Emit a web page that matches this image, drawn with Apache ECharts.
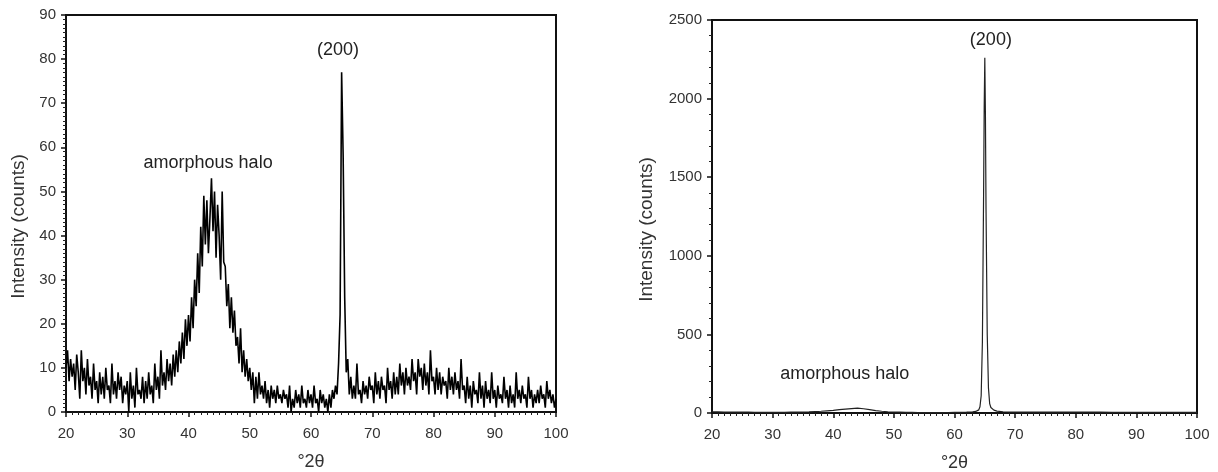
<!DOCTYPE html>
<html>
<head>
<meta charset="utf-8">
<script src="https://cdn.jsdelivr.net/npm/echarts@6/dist/echarts.min.js"></script>
<style>html,body{margin:0;padding:0;background:#fff}#c{width:1218px;height:472px}</style>
</head>
<body>
<div id="c"></div>
<script>
// Left pattern: 2θ from 20 to 100 in steps of 0.25°
const leftStart = 20, leftStep = 0.25;
const leftY = [
10,14,7,12, 8,11,5,13, 9,3,14,7, 10,4,12,6, 8,3,11,5,
7,2,9,4, 8,3,10,5, 6,2,11,4, 7,3,9,5, 8,2,6,4,
7,0,9,3, 6,1,10,4, 5,3,8,2, 7,3,9,4, 6,2,11,5,
8,3,14,6, 9,5,12,7, 11,6,13,8, 14,9,16,11, 18,12,21,15,
22,16,26,19, 30,24,36,27, 42,33,49,38, 48,36,44,53, 41,50,35,47,
40,30,50,34, 33,24,29,19, 26,18,23,15, 17,11,19,9, 14,8,12,7,
10,5,9,2, 8,3,9,4, 6,3,7,2, 5,1,6,3, 5,2,6,3,
4,2,5,3, 4,1,6,0, 3,1,5,2, 4,1,6,2, 3,1,5,2,
4,1,6,2, 3,0,5,2, 4,1,3,0, 4,1,5,3, 6,4,11,22,
77,58,26,9, 12,4,8,3, 6,3,11,4, 5,2,7,4, 6,3,8,5,
6,2,9,4, 7,3,8,5, 6,2,10,5, 7,3,9,4, 8,4,11,6,
9,4,10,6, 8,5,12,7, 9,4,12,8, 10,5,11,6, 9,4,14,7,
8,4,10,5, 9,4,8,6, 7,3,10,5, 8,4,9,5, 7,3,12,5,
6,2,8,3, 6,1,7,4, 5,2,9,3, 6,1,7,3, 5,2,9,3,
5,1,6,3, 4,2,8,3, 5,1,6,2, 4,1,9,3, 5,2,6,3,
4,1,8,3, 5,1,4,2, 5,2,6,3, 4,1,7,3, 5,2,4,1,
3
];
// Right pattern
const rightX = [20,21,22,23,24,25,26,27,28,29,30,31,32,33,34,35,36,37,38,39,40,41,42,43,44,45,46,47,48,49,50,51,52,53,54,55,56,57,58,59,60,61,62,63,63.5,64,64.2,64.4,64.6,64.8,64.9,65,65.1,65.2,65.4,65.6,65.8,66,66.5,67,68,69,70,72,74,76,78,80,82,84,86,88,90,92,94,96,98,100];
const rightY = [8,7,6,6,5,5,5,4,4,4,4,4,4,5,5,6,7,9,11,14,17,21,25,28,31,27,21,15,11,8,6,5,4,4,3,3,3,3,3,3,4,4,5,7,10,20,40,110,450,1400,1950,2260,1900,1300,500,160,60,35,18,12,8,6,5,5,5,6,6,5,5,5,4,4,4,4,4,4,4,4];
const xTicks = [20,30,40,50,60,70,80,90,100];
const leftYTicks = [0,10,20,30,40,50,60,70,80,90];
const rightYTicks = [0,500,1000,1500,2000,2500];
const notes = {
  leftPeak: {label: '(200)', x: 64.4, y: 82},
  leftHalo: {label: 'amorphous halo', x: 43.2, y: 56.4},
  rightPeak: {label: '(200)', x: 66.0, y: 2373},
  rightHalo: {label: 'amorphous halo', x: 41.9, y: 248}
};

const leftData = leftY.map((v, i) => [leftStart + i * leftStep, v]);
const rightData = rightX.map((x, i) => [x, rightY[i]]);

const FONT = '"Liberation Sans", Arial, sans-serif';
const labelStyle = {color: '#333', fontSize: 15, fontFamily: FONT};

function xAxis(gi) {
  return {
    type: 'value', gridIndex: gi, min: xTicks[0], max: xTicks[xTicks.length - 1], interval: 10,
    name: '°2θ', nameLocation: 'middle', nameGap: 41,
    nameTextStyle: {color: '#333', fontSize: 18, fontFamily: FONT},
    axisLine: {show: true, onZero: false, lineStyle: {color: '#111', width: 2}},
    axisTick: {show: true, length: 5, lineStyle: {color: '#111', width: 1.5}},
    minorTick: {show: true, splitNumber: 10, length: 3, lineStyle: {color: '#222', width: 1}},
    axisLabel: Object.assign({margin: 14, formatter: v => String(v)}, labelStyle),
    splitLine: {show: false}
  };
}
function yAxis(gi, ticks, interval, split, gap) {
  return {
    type: 'value', gridIndex: gi, min: ticks[0], max: ticks[ticks.length - 1], interval: interval,
    name: 'Intensity (counts)', nameLocation: 'middle', nameGap: gap,
    nameTextStyle: {color: '#333', fontSize: 19, fontFamily: FONT, padding: [0, 26, 0, 0]},
    axisLine: {show: true, onZero: false, lineStyle: {color: '#111', width: 2}},
    axisTick: {show: true, length: 5, lineStyle: {color: '#111', width: 1.5}},
    minorTick: {show: true, splitNumber: split, length: 3, lineStyle: {color: '#222', width: 1}},
    axisLabel: Object.assign({margin: 10, formatter: v => String(v)}, labelStyle),
    splitLine: {show: false}
  };
}
function note(n) {
  return {
    coord: [n.x, n.y], symbol: 'circle', symbolSize: 0,
    label: {show: true, formatter: n.label, position: 'inside',
      color: '#222', fontSize: 18, fontFamily: FONT}
  };
}

const chart = echarts.init(document.getElementById('c'), null, {renderer: 'canvas'});
chart.setOption({
  animation: false,
  backgroundColor: '#fff',
  grid: [
    {left: 66, top: 15, width: 490, height: 397, outerBoundsMode: 'none', containLabel: false,
      show: true, borderColor: '#111', borderWidth: 2, backgroundColor: 'transparent'},
    {left: 712, top: 20, width: 485, height: 393, outerBoundsMode: 'none', containLabel: false,
      show: true, borderColor: '#111', borderWidth: 2, backgroundColor: 'transparent'}
  ],
  xAxis: [xAxis(0), xAxis(1)],
  yAxis: [yAxis(0, leftYTicks, 10, 10, 38), yAxis(1, rightYTicks, 500, 5, 56)],
  series: [
    {type: 'line', xAxisIndex: 0, yAxisIndex: 0, data: leftData, showSymbol: false, symbol: 'none',
      lineStyle: {color: '#000', width: 1.6}, silent: true,
      markPoint: {silent: true, data: [note(notes.leftPeak), note(notes.leftHalo)]}},
    {type: 'line', xAxisIndex: 1, yAxisIndex: 1, data: rightData, showSymbol: false, symbol: 'none',
      lineStyle: {color: '#222', width: 1.2}, silent: true,
      markPoint: {silent: true, data: [note(notes.rightPeak), note(notes.rightHalo)]}}
  ]
});
</script>
</body>
</html>
